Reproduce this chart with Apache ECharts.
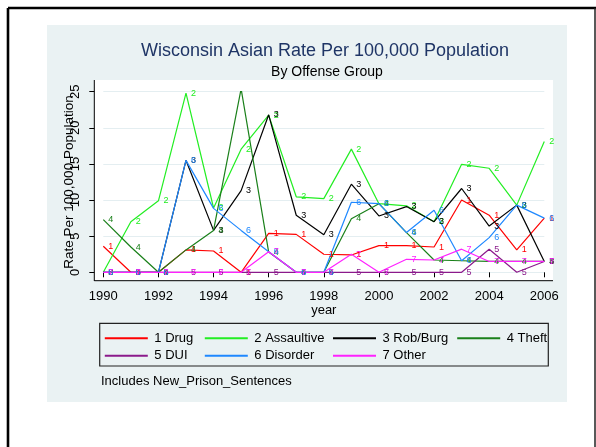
<!DOCTYPE html>
<html>
<head>
<meta charset="utf-8">
<script src="https://cdn.jsdelivr.net/npm/echarts@6/dist/echarts.min.js"></script>
<style>
html,body{margin:0;padding:0;background:#fff;}
#echart{width:596px;height:447px;}
</style>
</head>
<body>
<div id="echart"></div>
<script>
// rates per 100,000
var years = [1990,1991,1992,1993,1994,1995,1996,1997,1998,1999,2000,2001,2002,2003,2004,2005,2006];
var drug       = [3.6, 0, 0, 3.1, 2.95, 0, 5.4, 5.25, 2.5, 2.4, 3.7, 3.7, 3.5, 10.0, 7.9, 3.1, 7.5];
var assaultive = [0, 7.0, 9.9, 24.8, 8.9, 17.05, 21.75, 10.45, 10.2, 17.05, 9.5, 9.2, 7.0, 14.95, 14.4, 9.3, 18.1];
var robBurg    = [0, 0, 0, 15.5, 5.8, 11.3, 21.8, 7.9, 5.2, 12.2, 7.8, 9.1, 7.0, 11.6, 6.4, 9.3, 1.5];
var theft      = [7.3, 3.5, 0, 3.1, 5.8, 25.4, 2.8, 0, 0, 7.4, 9.5, 5.5, 1.7, 1.6, 1.5, 1.5, 1.5];
var dui        = [0, 0, 0, 0, 0, 0, 0, 0, 0, 0, 0, 0, 0, 0, 3.2, 0, 1.5];
var disorder   = [0, 0, 0, 15.5, 8.85, 5.8, 2.85, 0, 0, 9.7, 9.5, 5.5, 8.6, 1.6, 4.8, 9.3, 7.5];
var other      = [0, 0, 0, 0, 0, 0, 2.85, 0, 0, 2.5, 0, 1.8, 1.7, 3.2, 1.5, 1.5, 1.5];

var groupNames = ['1 Drug','2 Assaultive','3 Rob/Burg','4 Theft','5 DUI','6 Disorder','7 Other'];
var groupData = [drug, assaultive, robBurg, theft, dui, disorder, other];
var groupColors = ['#ff0000','#22ee22','#000000','#1a801a','#8b1a8b','#1e88ff','#ff22ff'];

var yTicks = [0,5,10,15,20,25];
var xTicks = [1990,1992,1994,1996,1998,2000,2002,2004,2006];

var FONT = '"Liberation Sans", Arial, sans-serif';

function init_echart(){
	var dom = document.getElementById('echart');
	var myChart = echarts.init(dom);
	var option = null;

	var series = [];
	for(var i=0;i<groupNames.length;i++){
		var pts = [];
		for(var j=0;j<years.length;j++){
			pts.push([years[j], groupData[i][j]]);
		}
		series.push({
			name: groupNames[i],
			type: 'line',
			data: pts,
			symbol: 'circle',
			symbolSize: 0,
			color: groupColors[i],
			lineStyle: {width: 1.2, color: groupColors[i]},
			label: {
				show: true,
				position: 'right',
				distance: 5,
				fontSize: 9,
				fontFamily: FONT,
				color: groupColors[i],
				formatter: String(i+1)
			},
			emphasis: {disabled: true},
			animation: false
		});
	}

	// stata style legend: 4 columns, 2 rows
	var colLeft = [104.8, 204.8, 333, 457.2];
	var colItems = [['1 Drug','5 DUI'],['2 Assaultive','6 Disorder'],['3 Rob/Burg','7 Other'],['4 Theft']];
	var legends = [];
	for(var c=0;c<colLeft.length;c++){
		legends.push({
			orient: 'vertical',
			left: colLeft[c],
			top: 330.7,
			padding: 0,
			itemGap: 2.6,
			itemWidth: 43,
			itemHeight: 2,
			icon: 'path://M0,0 L43,0 L43,2 L0,2 Z',
			selectedMode: false,
			data: colItems[c],
			textStyle: {fontSize: 13, fontFamily: FONT, color: '#000', lineHeight: 15, padding: [0,0,0,1.5]}
		});
	}

	option = {
		backgroundColor: '#ffffff',
		animation: false,
		textStyle: {fontFamily: FONT},
		title: [{
			text: 'Wisconsin Asian Rate Per 100,000 Population',
			left: 320, top: 37, textAlign: 'center',
			textStyle: {fontSize: 18, fontWeight: 'normal', color: '#1f3566', fontFamily: FONT}
		},{
			text: 'By Offense Group',
			left: 322, top: 60, textAlign: 'center',
			textStyle: {fontSize: 14, fontWeight: 'normal', color: '#000', fontFamily: FONT}
		},{
			text: 'Includes New_Prison_Sentences',
			left: 96, top: 370,
			textStyle: {fontSize: 13, fontWeight: 'normal', color: '#000', fontFamily: FONT}
		}],
		legend: legends,
		grid: {left: 103.3, right: 51.7, top: 91.7, bottom: 174.7, outerBoundsMode: 'none'},
		xAxis: {
			type: 'value',
			min: 1990, max: 2006, interval: 2,
			offset: 8.4,
			name: 'year',
			nameLocation: 'middle',
			nameGap: 23,
			nameMoveOverlap: false,
			nameTextStyle: {fontSize: 13, color: '#000', fontFamily: FONT},
			axisLine: {show: false},
			axisTick: {show: true, length: 5, lineStyle: {color: '#000'}},
			axisLabel: {fontSize: 13, color: '#000', margin: 9, fontFamily: FONT,
				customValues: xTicks, formatter: function(v){return String(v);}},
			splitLine: {show: false}
		},
		yAxis: {
			type: 'value',
			min: 0, max: 25, interval: 5,
			offset: 9,
			name: 'Rate Per 100,000 Population',
			nameLocation: 'middle',
			nameGap: 18,
			nameMoveOverlap: false,
			nameTextStyle: {fontSize: 13.5, color: '#000', fontFamily: FONT},
			axisLine: {show: false},
			axisTick: {show: true, length: 5, lineStyle: {color: '#000'}},
			axisLabel: {fontSize: 13, color: '#000', rotate: 90, margin: 12, fontFamily: FONT},
			splitLine: {show: true, lineStyle: {color: '#e4eef1', width: 1}}
		},
		graphic: [
			{type: 'rect', z: -10, shape: {x: 47, y: 25, width: 520, height: 377}, style: {fill: '#eaf2f3'}},
			{type: 'rect', z: -9, shape: {x: 94.3, y: 80, width: 458.7, height: 200.7}, style: {fill: '#ffffff'}},
			{type: 'rect', z: -9, shape: {x: 99.7, y: 323.3, width: 448.6, height: 42.7}, style: {fill: 'none', stroke: '#222', lineWidth: 1.2}},
			{type: 'line', z: 10, shape: {x1: 94.3, y1: 80, x2: 94.3, y2: 281}, style: {stroke: '#000', lineWidth: 1}},
			{type: 'line', z: 10, shape: {x1: 94.3, y1: 280.7, x2: 553, y2: 280.7}, style: {stroke: '#000', lineWidth: 1}},
			// frame around the whole picture
			{type: 'line', z: 10, shape: {x1: 8, y1: 8, x2: 596, y2: 8}, style: {stroke: '#000', lineWidth: 2.6}},
			{type: 'line', z: 10, shape: {x1: 8, y1: 8, x2: 8, y2: 447}, style: {stroke: '#000', lineWidth: 2.6}},
			{type: 'line', z: 10, shape: {x1: 595, y1: 8, x2: 595, y2: 447}, style: {stroke: '#222', lineWidth: 1.5}}
		],
		series: series
	};
	if (option && typeof option === "object") {
		myChart.setOption(option, true);
	}
}
init_echart();
</script>
</body>
</html>
